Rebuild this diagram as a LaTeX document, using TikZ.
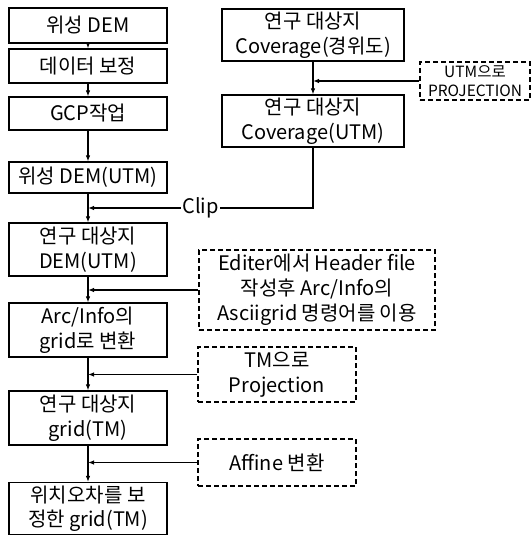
\documentclass[tikz,border=0pt]{standalone}
\usepackage{fontspec}
\setmainfont{Noto Sans CJK KR}
\usepackage{tikz}
\usetikzlibrary{positioning, arrows.meta, calc}
\tikzset{
  stepbox/.style={draw=black, line width=1.2pt, fill=white, align=center, inner sep=0pt, minimum width=158pt, font=\fontsize{20}{24.5}\selectfont},
  covbox/.style={stepbox, minimum width=182pt, minimum height=52pt},
  notebox/.style={draw=black, line width=1.2pt, dash pattern=on 5pt off 3pt, align=center, inner sep=0pt, font=\fontsize{20}{25}\selectfont},
  arrow/.style={-{Latex[length=6pt, width=4.5pt]}, line width=1.1pt, draw=black},
}
\begin{document}
\begin{tikzpicture}[x=1pt, y=-1pt]
  \useasboundingbox (0,0) rectangle (532,535);
  % Left column: satellite DEM processing
  \node[stepbox, minimum height=35pt] (sat) at (88,25.5) {위성 DEM};
  \node[stepbox, minimum height=34pt] (corr) at (88,66) {데이터 보정};
  \node[stepbox, minimum height=33pt] (gcp) at (88,113.5) {GCP작업};
  \node[stepbox, minimum height=31pt] (satutm) at (88,177.5) {위성 DEM(UTM)};
  \node[stepbox, minimum height=53pt] (demutm) at (88,249.5) {연구 대상지\\DEM(UTM)};
  \node[stepbox, minimum height=54pt] (grid) at (88,330) {Arc/Info의\\grid로 변환};
  \node[stepbox, minimum height=54pt] (gridtm) at (88,418) {연구 대상지\\grid(TM)};
  \node[stepbox, minimum height=52pt] (gridfix) at (88,508.5) {위치오차를 보\\정한 grid(TM)};
  % Right column: study area coverage
  \node[covbox] (covll) at (313,35) {연구 대상지\\Coverage(경위도)};
  \node[covbox] (covutm) at (313,121) {연구 대상지\\Coverage(UTM)};
  % Dashed notes
  \node[notebox, minimum width=110pt, minimum height=38pt, font=\fontsize{15.5}{18.5}\selectfont] (utmproj) at (475,81) {UTM으로\\PROJECTION};
  \node[notebox, minimum width=236pt, minimum height=80pt] (editer) at (317,290) {Editer에서 Header file\\작성후 Arc/Info의\\Asciigrid 명령어를 이용};
  \node[notebox, minimum width=158pt, minimum height=55pt] (tmproj) at (277,374.5) {TM으로\\Projection};
  \node[notebox, minimum width=158pt, minimum height=47pt] (affine) at (277,462.5) {Affine 변환};
  \coordinate (clip) at (88,208);

  % Edges
  \draw[arrow] (sat) -- (corr);
  \draw[arrow] (corr) -- (gcp);
  \draw[arrow] (gcp) -- (satutm);
  \draw[arrow] (satutm) -- (demutm);
  \draw[arrow] (demutm) -- (grid);
  \draw[arrow] (grid) -- (gridtm);
  \draw[arrow] (gridtm) -- (gridfix);
  \draw[arrow] (covll) -- (covutm);
  \draw[arrow] (utmproj.west) -- (utmproj.west -| covll.south);
  \draw[arrow] (covutm.south) |- node[pos=0.75, fill=white, inner sep=1pt, font=\fontsize{20}{24}\selectfont] (cliplabel) {Clip} (clip);
  \draw[arrow] (editer.west) -- (editer.west -| demutm.south);
  \draw[arrow] (tmproj.west) -- (tmproj.west -| grid.south);
  \draw[arrow] (affine.west) -- (affine.west -| gridtm.south);
\end{tikzpicture}
\end{document}
